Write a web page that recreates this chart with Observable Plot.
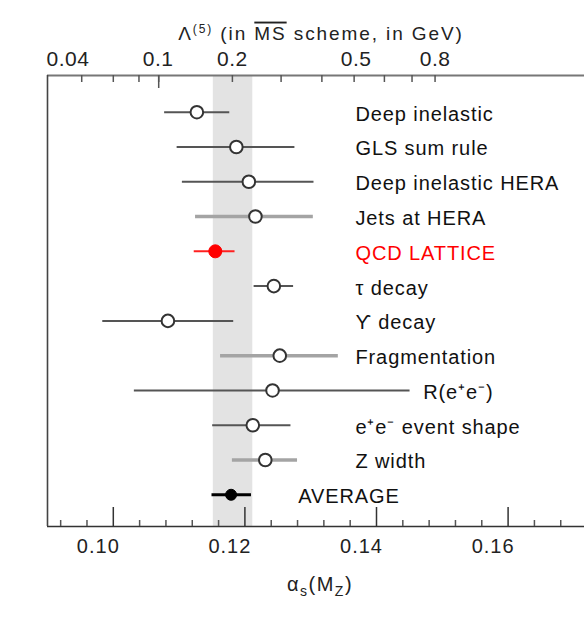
<!DOCTYPE html>
<html>
<head>
<meta charset="utf-8">
<script src="https://cdn.jsdelivr.net/npm/d3@7"></script>
<script src="https://cdn.jsdelivr.net/npm/@observablehq/plot@0.6"></script>
<style>
  html, body { margin: 0; padding: 0; background: #fff; }
  #chart svg { display: block; }
  .row-label text { letter-spacing: 0.9px; }
  .tick-bottom text { letter-spacing: 1px; }
  .tick-top text { letter-spacing: 0.5px; }
  .title-top text { letter-spacing: 1.9px; }
  .title-bottom text { letter-spacing: 1.5px; }
</style>
</head>
<body>
<div id="chart"></div>
<script>
// ---- data ----
const categories = ["Deep inelastic", "GLS sum rule", "Deep inelastic HERA", "Jets at HERA", "QCD LATTICE",
  "τ decay", "ϒ decay", "Fragmentation", "R(e⁺e⁻)", "e⁺e⁻ event shape", "Z width", "AVERAGE"];
const alphaCentral = [0.1127, 0.1187, 0.1206, 0.1216, 0.1155, 0.1244, 0.1083, 0.1253, 0.1242, 0.1212, 0.1231, 0.1179];
const alphaLow     = [0.1078, 0.1097, 0.1105, 0.1125, 0.1123, 0.1214, 0.0984, 0.1163, 0.1032, 0.1151, 0.1181, 0.1150];
const alphaHigh    = [0.1177, 0.1276, 0.1305, 0.1304, 0.1185, 0.1274, 0.1183, 0.1342, 0.1451, 0.1270, 0.1280, 0.1210];
const kind = ["open", "open", "open", "light", "lattice", "open", "open", "light", "open", "open", "light", "average"];
const averageBand = [0.1152, 0.1212];

const alphaTicks = [0.10, 0.12, 0.14, 0.16];
const alphaTickLabels = ["0.10", "0.12", "0.14", "0.16"];
const alphaMinorTicks = [0.092, 0.096, 0.104, 0.108, 0.112, 0.116, 0.124, 0.128, 0.132, 0.136,
  0.144, 0.148, 0.152, 0.156, 0.164, 0.168];

const lambdaLabels = ["0.04", "0.1", "0.2", "0.5", "0.8"];
const lambdaLabelAlpha = [0.0931, 0.1068, 0.1181, 0.1369, 0.1489];
const lambdaTickAlpha = [0.0952, 0.1000, 0.1039, 0.1069, 0.1181, 0.1255, 0.1317, 0.1366, 0.1412, 0.1454, 0.1489];
const lambdaMajorTickAlpha = [0.1069];

// ---- layout ----
const W = 584, H = 637;
const mTop = 75, mBottom = 111, mLeft = 47, mRight = 0;
const xMin = 0.090, xMax = 0.090 + (W - mLeft - mRight) / 6580;
const yTop = -1.055, yBot = 11.912;
const pxPerRow = (H - mTop - mBottom) / (yBot - yTop);

const rows = categories.map((name, i) => ({
  name, i, c: alphaCentral[i], lo: alphaLow[i], hi: alphaHigh[i], kind: kind[i]
}));
const openRows = rows.filter(d => d.kind === "open" || d.kind === "light");
const latticeRows = rows.filter(d => d.kind === "lattice");
const averageRows = rows.filter(d => d.kind === "average");
const labelX = d => d.kind === "average" ? d.hi + 0.0071 : Math.max(0.1368, d.hi + 0.0020);

const font = "'Liberation Sans', Arial, Helvetica, sans-serif";

const chart = Plot.plot({
  width: W, height: H,
  marginTop: mTop, marginBottom: mBottom, marginLeft: mLeft, marginRight: mRight,
  style: {fontFamily: font, background: "#fff", overflow: "visible"},
  x: {domain: [xMin, xMax], axis: null},
  y: {domain: [yTop, yBot], reverse: true, axis: null},
  marks: [
    // average band
    Plot.rect([averageBand], {x1: d => d[0], x2: d => d[1], y1: yTop, y2: yBot, fill: "#e3e3e3"}),
    // frame
    Plot.ruleY([yTop], {x1: xMin, x2: xMax, stroke: "#777", strokeWidth: 2}),
    Plot.ruleY([yBot], {x1: xMin, x2: xMax, stroke: "#333", strokeWidth: 1.6}),
    Plot.ruleX([xMin], {y1: yTop, y2: yBot, stroke: "#444", strokeWidth: 1.6}),
    // bottom ticks (inward)
    Plot.ruleX(alphaTicks, {x: d => d, y1: yBot, y2: yBot - 19 / pxPerRow, stroke: "#333", strokeWidth: 1.5}),
    Plot.ruleX(alphaMinorTicks, {x: d => d, y1: yBot, y2: yBot - 6 / pxPerRow, stroke: "#555", strokeWidth: 1.5}),
    Plot.text(alphaTicks, {x: d => d, y: yBot, dy: 20, dx: -15, text: (d, i) => alphaTickLabels[i],
      fontSize: 20, fill: "#222", textAnchor: "middle", lineAnchor: "middle", className: "tick-bottom"}),
    // top ticks (inward)
    Plot.ruleX(lambdaTickAlpha, {x: d => d, y1: yTop, y2: yTop + 7 / pxPerRow, stroke: "#555", strokeWidth: 1.5}),
    Plot.ruleX(lambdaMajorTickAlpha, {x: d => d, y1: yTop, y2: yTop + 13 / pxPerRow, stroke: "#555", strokeWidth: 1.5}),
    Plot.text(lambdaLabelAlpha, {x: d => d, y: yTop, dy: -16, text: (d, i) => lambdaLabels[i],
      fontSize: 21, fill: "#222", textAnchor: "middle", lineAnchor: "middle", className: "tick-top"}),
    // error bars
    Plot.ruleY(rows, {y: "i", x1: "lo", x2: "hi",
      stroke: d => d.kind === "lattice" ? "#ff2020" : d.kind === "average" ? "#000" : d.kind === "light" ? "#a4a4a4" : "#555",
      strokeWidth: d => d.kind === "light" ? 3.5 : d.kind === "average" ? 3 : 2}),
    // markers
    Plot.dot(openRows, {x: "c", y: "i", r: 6.3, fill: "#fff", stroke: "#333", strokeWidth: 2}),
    Plot.dot(latticeRows, {x: "c", y: "i", r: 6.5, fill: "#ff0000", stroke: "#ff0000", strokeWidth: 1}),
    Plot.dot(averageRows, {x: "c", y: "i", r: 5.5, fill: "#000", stroke: "#000", strokeWidth: 1}),
    // row labels
    Plot.text(rows, {x: labelX, y: "i", dy: 2, text: "name", textAnchor: "start", lineAnchor: "middle",
      fontSize: 20, fill: d => d.kind === "lattice" ? "#ff0000" : "#111", className: "row-label"}),
    // axis titles
    Plot.text(["top"], {frameAnchor: "top", dy: -42, dx: 5, text: d => "Λ(5) (in MS scheme, in GeV)",
      fontSize: 19, fill: "#222", lineAnchor: "middle", className: "title-top"}),
    Plot.text(["bottom"], {frameAnchor: "bottom", dy: 58, dx: 4, text: d => "αs(MZ)",
      fontSize: 20, fill: "#222", lineAnchor: "middle", className: "title-bottom"})
  ]
});

// rich text for axis titles
const tTop = chart.querySelector("g.title-top text");
if (tTop) {
  tTop.innerHTML = 'Λ<tspan dy="-7" font-size="12">(5)</tspan><tspan dy="7"> (in </tspan>' +
    '<tspan text-decoration="overline" style="text-decoration: overline">MS</tspan> scheme, in GeV)';
}
const tBot = chart.querySelector("g.title-bottom text");
if (tBot) {
  tBot.innerHTML = 'α<tspan dy="5" font-size="14">s</tspan><tspan dy="-5">(M</tspan>' +
    '<tspan dy="5" font-size="14">Z</tspan><tspan dy="-5">)</tspan>';
}

document.getElementById("chart").appendChild(chart);
</script>
</body>
</html>
